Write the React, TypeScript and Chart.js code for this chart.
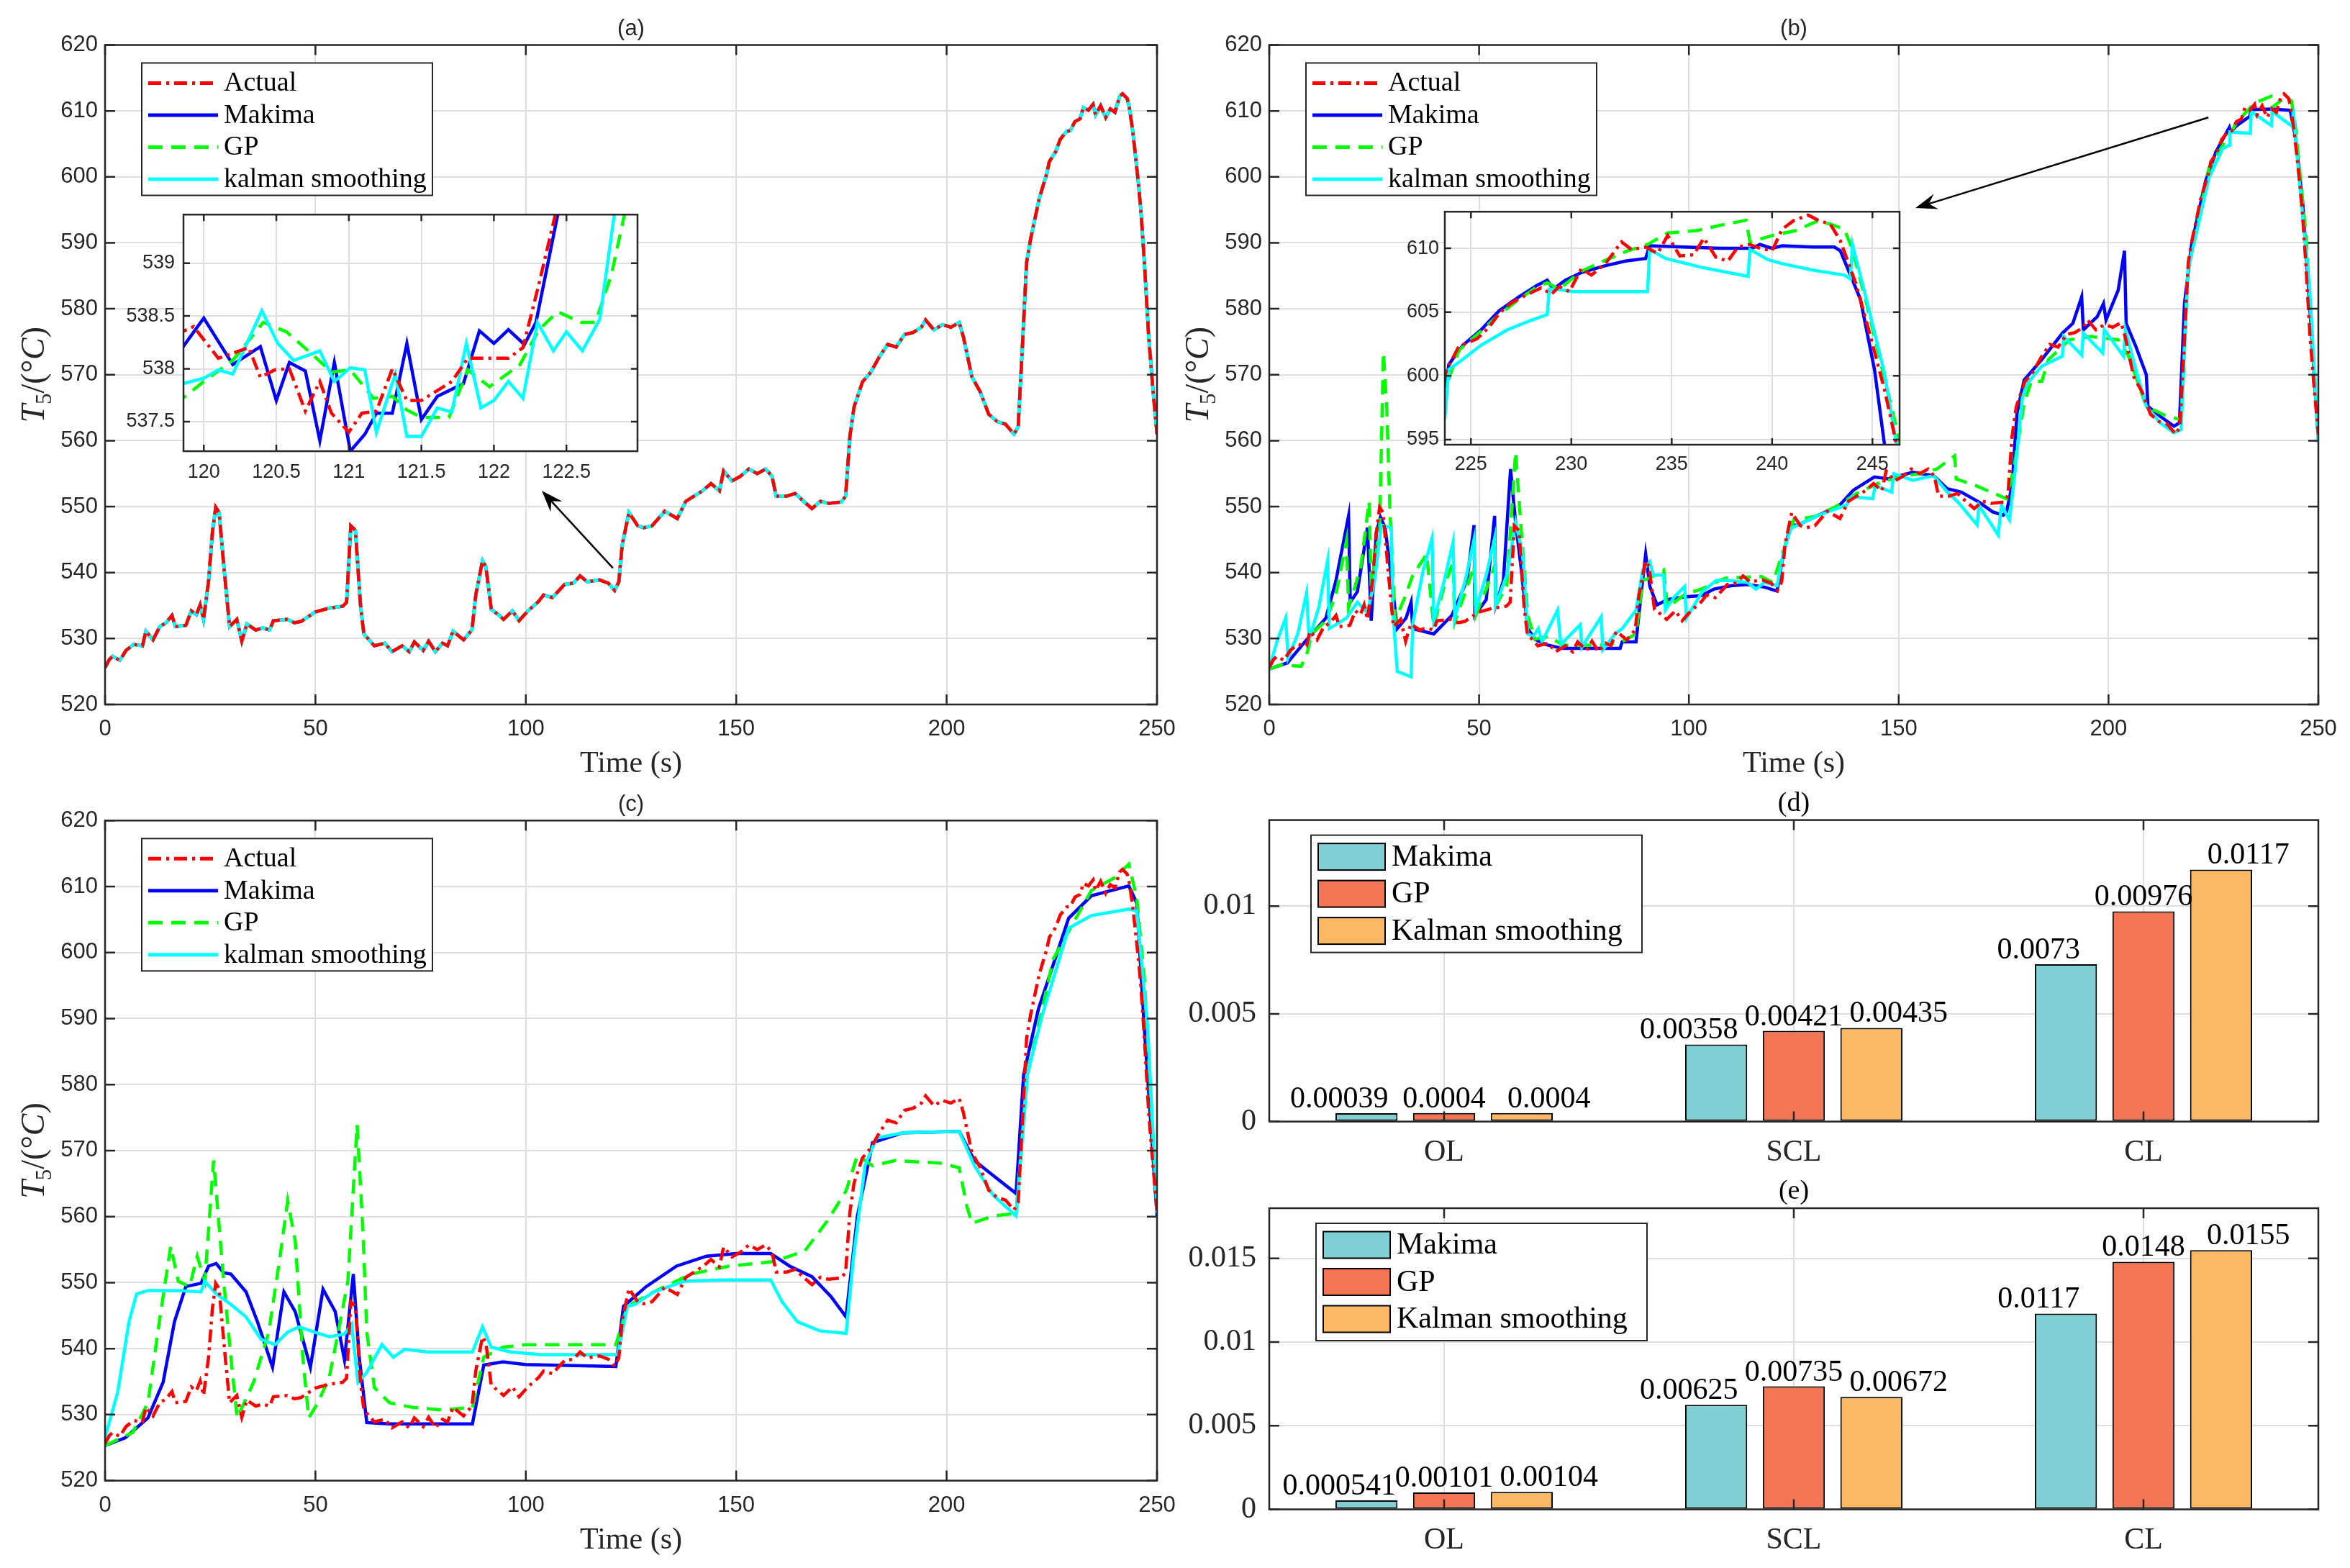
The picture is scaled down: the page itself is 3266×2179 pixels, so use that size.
import React, { useEffect, useRef } from 'react'
import { Chart, registerables } from 'chart.js'

Chart.register(...registerables)

const SANS = '"Liberation Sans", Arial, sans-serif'
const SERIF = '"Liberation Serif", "Times New Roman", serif'
const INK = '#262626'
const GRID = '#dfdfdf'
const RED = '#ff0000'
const BLUE = '#0000ff'
const GREEN = '#00ff00'
const CYAN = '#00ffff'
const DASHDOT = [18, 7, 4, 7]
const DASHED = [20, 12]

// ---------- measured temperature (s, °C), same in (a), (b), (c) ----------
const actualT = [
  0, 1, 1.8, 3.5, 5, 6.8, 8.9, 9.7, 11.4, 13, 14.5, 15.9, 16.7, 19.2, 20.5, 21.7, 22.6, 23.4, 24.6, 25.5,
  26.3, 27.1, 28.4, 29.6, 31.3, 32.5, 33.7, 35.8, 37.5, 39.1, 40, 43.3, 45, 46.6, 48, 49.9, 53.2, 56.5, 57.4, 58.4,
  59.5, 60.7, 61.5, 64, 66.5, 68.2, 70.6, 72.3, 73.5, 75.6, 76.9, 78.5, 80.2, 81.4, 82.7, 85.2, 87.2, 88.1, 89.7, 90.5,
  91.8, 93.5, 94.7, 96.8, 98.4, 100.5, 103, 104.2, 106.3, 109.2, 111.3, 112.9, 114.6, 117.5, 119.6, 121.1, 122.1, 122.9, 124.5, 126.6,
  128, 130, 133, 136, 138, 140, 142, 144, 146, 147, 149, 151, 153, 155, 157, 158.5, 159.5, 162, 164, 166,
  168, 170, 172, 175, 176, 177, 178, 180, 182, 184, 186, 188, 190, 192, 194, 195, 197, 199, 201, 203,
  204, 206, 208, 210, 212, 214, 216, 217, 218, 219, 220, 222, 223.8, 224.4, 225.9, 227, 228.5, 229.4, 230.5, 231.7,
  232.5, 233.7, 234.8, 235.4, 236.6, 237.8, 238.9, 240, 241.1, 241.8, 242.9, 243.4, 244.2, 244.9, 245.6, 246.2, 247, 248, 249, 250,
]
const actualV = [
  525.6, 526.8, 527.3, 526.7, 528.2, 529.1, 528.9, 531.1, 529.8, 531.8, 532.4, 533.5, 531.8, 532, 534.2, 533.6, 535.1, 532.9, 538.7, 546,
  549.9, 549.1, 539.8, 531.8, 532.9, 529.6, 532.2, 531.3, 531.6, 531.3, 532.7, 532.9, 532.4, 532.6, 533.2, 534, 534.6, 534.9, 535.5, 547.1,
  546.4, 535.1, 530.7, 528.9, 529.3, 528, 528.9, 528, 529.5, 528.2, 529.6, 528, 529.3, 528.9, 531.1, 529.8, 531.3, 536.6, 541.8, 540.9,
  534.4, 533.6, 532.9, 534.2, 532.7, 534.2, 535.6, 536.6, 536.2, 538.2, 538.4, 539.5, 538.6, 538.9, 538.4, 537.3, 538.6, 544.2, 549.1, 547.1,
  546.8, 547.1, 549.3, 548.2, 550.8, 551.6, 552.4, 553.5, 552.4, 555.4, 553.9, 554.6, 555.7, 555, 555.7, 554.6, 551.6, 551.6, 552, 550.8,
  549.7, 550.8, 550.5, 550.7, 551.6, 560.6, 565.1, 568.9, 570.4, 572.7, 574.6, 574.2, 576.1, 576.4, 577.2, 578.3, 576.8, 577.6, 577.2, 577.9,
  575.7, 569.7, 567.4, 564, 562.9, 562.5, 561, 562.1, 574.2, 587, 590.7, 596.7, 600.5, 602.3, 603.8, 605.7, 606.9, 607, 608.4, 608.8,
  610.5, 610.1, 611, 609.4, 610.8, 609, 610.3, 609.8, 612.2, 612.6, 611.9, 610.6, 607.1, 603.1, 598.9, 594.6, 587, 576, 568, 561,
]

// ---------- (b) reconstructions ----------
const makimaBT = [
  0, 4.3, 8.5, 13.5, 15.9, 18.9, 19.3, 21, 23.4, 24.3, 25.5, 26.5, 27.6, 29.2, 30.5, 32.6, 33.8, 34.2, 39.2, 43.5,
  47.1, 48.8, 49, 51.7, 53.7, 54, 55.8, 57.5, 58.7, 60, 61.6, 63.3, 65.8, 69.9, 78.2, 83.6, 84.1, 87.4, 88.6, 89.7,
  90.7, 92.4, 94.9, 99, 103, 106, 110, 114, 118, 121, 122.6, 124.3, 125.9, 130.9, 135.9, 139.2, 144.2, 147.5, 153.3, 158.3,
  161.6, 164.9, 169.1, 172.4, 174.9, 175.7, 177, 178.2, 179.9, 184.1, 189, 191.5, 193.6, 194, 197.3, 198.8, 199.4, 202.3, 203.8, 204.2,
  206.5, 209, 209.4, 212.3, 215.6, 216.9, 218.1, 219.8, 223.1, 225.6, 228.8, 229.1, 230.6, 233.7, 233.9, 238.8, 243.1, 243.4, 244.6, 246.3, 247.9, 250,
]
const makimaBV = [
  525.4, 526.3, 529.5, 533.1, 538.8, 548.6, 535.5, 537.1, 546.8, 532.7, 546, 548.4, 546.8, 538.8, 531.5, 533.1, 535.5, 531.5, 530.7, 533.5,
  538.8, 547.2, 533.5, 535.9, 548.6, 535.1, 538.8, 555.7, 547.6, 540.8, 531.5, 529.9, 529.1, 528.5, 528.5, 528.5, 529.5, 529.5, 536.7, 542.8,
  537.9, 535.1, 535.9, 536.3, 536.5, 537.5, 538, 538.2, 537.8, 537.2, 543.2, 547.2, 547.2, 548.7, 550.2, 552.5, 554.5, 554.2, 555.2, 554.7,
  552.7, 552.2, 550.7, 549.2, 548.7, 549.2, 553.2, 564.2, 569.2, 572.3, 576.3, 577.8, 581.8, 576.8, 578.8, 580.8, 578.3, 582.8, 588.8, 577.8,
  574.3, 570, 565.2, 563.7, 562.2, 562.7, 580.8, 589.8, 599.3, 603.8, 607.5, 606.8, 607.8, 609.2, 610.2, 610.3, 610.1, 609.8, 605.8, 595.8, 580.8, 560.2,
]
const gpBT = [
  0, 2.7, 7.6, 8.9, 10.1, 13.5, 15.9, 18.4, 18.9, 21.8, 23.8, 24.3, 26.3, 27.2, 28, 28.8, 30, 32.6, 34.2, 37.5,
  39.2, 41.7, 43.8, 44.2, 46.7, 48.8, 49.2, 51.7, 53.7, 54, 56.6, 58.7, 60, 61.6, 63.3, 66.6, 70, 75, 80, 84,
  87.4, 89, 90.7, 94, 94.9, 99, 103, 107.3, 109, 117.3, 120, 122.6, 125, 130, 135, 140, 145, 150, 155, 159.1,
  163.3, 163.7, 168.3, 175.7, 177.4, 179.9, 181.6, 184.1, 185.7, 190.7, 195.7, 202.3, 204.8, 209, 213.9, 217.3, 218.9, 223.9, 230.6, 234.8,
  238.7, 238.9, 242.2, 243.6, 244.6, 247.1, 250,
]
const gpBV = [
  525.4, 526, 525.8, 527.5, 530.7, 532.7, 536.7, 544.8, 534.7, 540.8, 550.8, 537.9, 546.8, 573.4, 565, 548.8, 532.7, 536.7, 539.6, 542.8,
  531.9, 538, 541.5, 532.5, 537, 541, 533.5, 537.5, 541, 535, 538, 558.3, 546.8, 533.5, 529.9, 530.3, 529, 529, 529, 529.5,
  530.7, 538.8, 539.2, 540.4, 534.7, 536.7, 537.5, 538.8, 539.2, 539.4, 538.5, 543.5, 548, 548.5, 550, 552, 553.5, 554.5, 555, 555.7,
  557.7, 554.2, 553.2, 551.2, 555.7, 565.7, 569, 569, 572.3, 575.3, 575.8, 575.3, 572.8, 565.2, 563.7, 563.2, 585.8, 601.3, 608.3, 611.2,
  612.2, 610.5, 612.1, 611.5, 607.3, 590.8, 560.7,
]
const kalmanBT = [
  0, 1.8, 3.9, 4.5, 6.8, 8.9, 9.5, 11.8, 13.9, 14.3, 18.4, 21, 23.4, 25.1, 26.7, 29.1, 29.4, 30.5, 33.8, 34.2,
  36.7, 38.8, 39.2, 41.7, 43.8, 44.2, 46.7, 48.8, 49.2, 51.7, 53.7, 54, 56.6, 58.7, 60.4, 61.6, 62.9, 64.1, 65, 68.7,
  69.5, 74.1, 74.5, 79.1, 79.5, 82.4, 84.1, 87.4, 89, 90.7, 91.5, 94, 94.4, 96.5, 99, 99.4, 103.2, 106.5, 109.8, 114,
  116, 118, 121, 122.6, 124.3, 127.6, 130.9, 137.5, 138.8, 143.8, 144.4, 148.3, 148.8, 153.3, 158.3, 161.6, 164.1, 168.7, 169.1, 173.7,
  174.5, 176.4, 177.8, 179.5, 180.7, 184.1, 189, 189.3, 193.6, 194, 198.6, 199, 203.6, 204, 206.5, 209, 212.3, 215.6, 217.3, 218.9,
  223.9, 227.2, 228.8, 228.9, 233.8, 234, 238.8, 239, 243.9, 244, 245.4, 247.9, 250,
]
const kalmanBV = [
  525.4, 529.5, 533.1, 527.1, 530.7, 536.9, 529.9, 534.7, 541.8, 531.5, 533.1, 535.5, 533.9, 538.8, 547.2, 546.8, 534.7, 525, 524.2, 532.3,
  540.4, 545.2, 532.7, 538.8, 544.6, 533.1, 538.8, 545, 534.3, 539.6, 545.2, 535.1, 539.6, 547.6, 542.8, 530.7, 530.3, 531.5, 529.5, 534.3,
  529.1, 532.1, 528.7, 533.3, 528.3, 530.7, 531.5, 534.3, 540.4, 541.6, 539.6, 539.6, 534.3, 536.3, 537.9, 533.1, 537.1, 538.8, 538.8, 538.5,
  537.5, 538.5, 538, 543.2, 546.7, 547.7, 548.7, 550.2, 551.5, 551.2, 553.2, 552.2, 555, 554, 554.7, 552.2, 550.7, 547.2, 550.2, 545.7,
  550.2, 548, 555.7, 566.7, 568.7, 571.3, 572.8, 575.8, 573, 576.3, 573.3, 576.8, 572.8, 576.8, 570.8, 565.2, 562.7, 561.2, 561.7, 585.8,
  599.8, 604.3, 604.8, 606.8, 606.6, 609.9, 607.8, 609.9, 607.6, 610.3, 599.8, 583.3, 559.7,
]

// ---------- (c) reconstructions ----------
const makimaCT = [
  0, 4.8, 10.2, 13.8, 16.5, 19.2, 22.8, 24.6, 26.4, 28.2, 29.9, 33.5, 36.2, 39.8, 42.5, 45.2, 48.8, 51.8, 54.7, 56.9,
  59, 60.4, 62.2, 67.6, 87.3, 90, 94.5, 99.9, 121.4, 123.2, 128.6, 135.8, 142.9, 150.1, 158.2, 162.7, 168, 172.5, 176.1, 178.8,
  182.4, 189.6, 203, 206.6, 211.1, 216.5, 218.3, 221.8, 229, 234.4, 243.3, 245.2, 247, 250,
]
const makimaCV = [
  525.3, 526.5, 529.5, 534.9, 544.1, 549.4, 549.9, 552.5, 552.9, 551.5, 551.3, 548.6, 544.1, 537.2, 548.6, 545.6, 537.2, 549, 545.6, 538.3,
  551.3, 538.7, 528.8, 528.6, 528.6, 537.5, 538, 537.6, 537.3, 546.4, 549.4, 552.5, 554, 554.4, 554.4, 552.5, 550.9, 547.9, 544.8, 560.1,
  571.2, 572.7, 572.9, 568.5, 566.2, 563.5, 581.5, 591.4, 605.2, 608.6, 610.1, 607.5, 588.4, 560.1,
]
const gpCT = [
  0, 6.6, 10.2, 12.9, 15.6, 17.4, 20.1, 21.9, 23.7, 25.8, 28.2, 29.9, 31.4, 35.3, 38.9, 41.6, 43.4, 45.2, 47, 48.4,
  50.6, 53.3, 55.9, 57.7, 59.9, 61.3, 62.2, 64, 67.6, 73, 80.2, 87.3, 90, 94.5, 99.9, 121.4, 124.1, 130.4, 139.3, 148.3,
  159, 166.3, 171.6, 176.1, 178.8, 182.4, 187.7, 198.5, 203, 204.8, 206, 211.1, 216.5, 219.2, 225.4, 234.4, 239.8, 243.3, 245.2, 247, 250,
]
const gpCV = [
  525.3, 527.3, 531.8, 544.1, 555.5, 550.2, 549.4, 554, 550.2, 568.5, 550.2, 538.7, 529.5, 534.9, 542.5, 554, 562.4, 556.3, 538.7, 529.5,
  531.8, 535.7, 544.1, 550.2, 573.9, 557.8, 542.5, 534.1, 531.8, 531.1, 530.7, 531.1, 538.7, 540.2, 540.6, 540.6, 546.4, 548.6, 551.3, 552.5,
  553.2, 554.8, 559.3, 563.9, 569.3, 567.7, 568.5, 568.1, 567.4, 561.6, 559, 560.1, 560.5, 581.5, 599.1, 609.4, 611.3, 613.4, 608.2, 596, 560.1,
]
const kalmanCT = [
  0, 3, 5.7, 7.5, 10.2, 17.4, 22.8, 23.7, 26.4, 29.9, 33.5, 37.1, 40.4, 43.4, 46.1, 49.7, 53.3, 56.9, 58.6, 60.1,
  62.2, 65.8, 68.5, 71.2, 76.6, 87.3, 89.7, 91.8, 96.3, 103.5, 121.8, 124.1, 125.9, 130.4, 137.6, 146.5, 158.2, 160.9, 164.5, 169.8,
  176.1, 177.9, 180.6, 183.3, 189.6, 203, 206.6, 211.1, 216.5, 219.2, 222.8, 229, 234.4, 243.3, 245.2, 247.8, 250,
]
const kalmanCV = [
  526.5, 533.4, 544.1, 548.3, 548.8, 548.8, 548.6, 550.2, 548.3, 546.7, 544.8, 541.4, 540.6, 542.5, 543.3, 542.5, 541.8, 542.2, 543.7, 534.9,
  536.4, 540.6, 538.7, 539.9, 539.5, 539.5, 543.3, 540.2, 539.5, 539.1, 539.1, 546.4, 546.7, 548.6, 550.2, 550.4, 550.4, 547.1, 544.1, 542.7,
  542.3, 554, 567.7, 571.9, 572.7, 572.9, 567.7, 563.2, 560.1, 581.5, 590.7, 603.7, 605.6, 606.6, 606.3, 588.4, 560.5,
]

// ---------- inset of (a): 119.9 s - 123 s ----------
const insA_actualT = [119.8, 119.93, 120.1, 120.31, 120.39, 120.49, 120.59, 120.7, 120.8, 120.88, 121, 121.09, 121.19, 121.3, 121.4, 121.5, 121.71, 121.82, 121.92, 122.1, 122.2, 122.31, 122.42, 122.6]
const insA_actualV = [538.32, 538.4, 538.1, 538.2, 537.92, 537.99, 538, 537.6, 537.88, 537.58, 537.4, 537.58, 537.6, 538, 537.7, 537.7, 537.88, 538.1, 538.1, 538.1, 538.2, 538.8, 539.44, 540.5]
const insA_makimaT = [119.8, 120, 120.2, 120.39, 120.5, 120.59, 120.7, 120.8, 120.9, 121.01, 121.11, 121.19, 121.3, 121.4, 121.5, 121.61, 121.79, 121.9, 122, 122.1, 122.21, 122.29, 122.44, 122.6]
const insA_makimaV = [538.1, 538.48, 538.04, 538.21, 537.7, 538.06, 537.98, 537.32, 538.06, 537.22, 537.38, 537.58, 537.58, 538.24, 537.52, 537.74, 537.86, 538.36, 538.24, 538.37, 538.23, 538.44, 539.46, 540.3]
const insA_gpT = [119.8, 120, 120.2, 120.41, 120.57, 120.72, 120.88, 121.01, 121.17, 121.3, 121.4, 121.5, 121.69, 121.82, 121.97, 122.18, 122.31, 122.44, 122.6, 122.7, 122.81, 122.9, 123.1]
const insA_gpV = [537.66, 537.88, 538.08, 538.44, 538.35, 538.17, 537.97, 537.99, 537.72, 537.74, 537.61, 537.54, 537.54, 537.99, 537.83, 538.04, 538.37, 538.54, 538.44, 538.44, 538.89, 539.46, 540]
const insA_kalmanT = [119.8, 120, 120.1, 120.2, 120.4, 120.51, 120.62, 120.8, 120.9, 121.01, 121.11, 121.19, 121.32, 121.4, 121.5, 121.61, 121.71, 121.81, 121.91, 122, 122.1, 122.2, 122.3, 122.41, 122.5, 122.61, 122.73, 122.83, 123]
const insA_kalmanV = [537.84, 537.91, 537.99, 537.95, 538.55, 538.24, 538.08, 538.17, 537.88, 538.01, 537.99, 537.4, 537.95, 537.36, 537.36, 537.63, 537.59, 538.24, 537.63, 537.7, 537.88, 537.72, 538.44, 538.17, 538.35, 538.17, 538.47, 539.46, 540.5]

// ---------- inset of (b): 223.7 s - 246.4 s ----------
const insB_actualT = [223.6, 223.8, 224.4, 225.3, 225.9, 226.4, 227, 227.7, 228.5, 229, 229.4, 229.9, 230.5, 231, 231.7, 232.5, 233, 233.7, 234.3, 234.8, 235.4, 236.1, 236.6, 237.2, 237.8, 238.3, 238.9, 239.4, 240, 240.5, 241.1, 241.8, 242.3, 242.9, 243.4, 244.2, 244.9, 245.6, 246.2, 246.6]
const insB_actualV = [599.5, 600.5, 602.3, 602.9, 603.8, 604.9, 605.7, 606.3, 606.9, 606.4, 607, 606.6, 608.4, 607.9, 608.8, 610.5, 609.9, 610.1, 609.6, 611, 609.4, 609.5, 610.8, 609.3, 609, 610.1, 610.3, 610, 609.8, 611.5, 612.2, 612.6, 612.2, 611.9, 610.6, 607.1, 603.1, 598.9, 594.6, 592]
const insB_makimaT = [223.6, 223.7, 223.9, 224.6, 225.5, 226.4, 227.4, 228.3, 228.8, 229.1, 229.7, 230.5, 231.6, 232.7, 233.7, 233.9, 235.6, 237.4, 239, 239.4, 240, 240.5, 242, 243.1, 243.4, 244.4, 245.1, 245.6, 246]
const insB_makimaV = [597.5, 598.6, 600.9, 602.4, 603.6, 605.1, 606.2, 607.1, 607.5, 606.8, 607.5, 608.1, 608.6, 609, 609.2, 610.2, 610.1, 610, 610, 610.3, 610, 610.2, 610.1, 610.1, 609.8, 606, 600.5, 594.6, 591]
const insB_gpT = [223.6, 223.7, 224.4, 225.5, 226.4, 227.4, 228.3, 228.8, 229.4, 230.5, 231.6, 232.8, 233.8, 234.8, 236.3, 237.4, 238.7, 238.9, 240, 241.2, 242.2, 242.9, 243.6, 244, 244.7, 245.4, 246.4, 246.6]
const insB_gpV = [598, 598.9, 602, 603.5, 604.8, 606, 607, 607.3, 606.8, 608.2, 609, 609.8, 610.3, 611.2, 611.4, 611.8, 612.2, 610.5, 611, 611.4, 612.1, 611.9, 611.5, 609.9, 605.7, 601.1, 594.6, 593]
const insB_kalmanT = [223.6, 223.7, 223.9, 224.6, 225.5, 226.8, 227.9, 228.8, 228.9, 229.2, 230.1, 231.9, 233.8, 233.9, 234.7, 236.5, 238.8, 238.9, 239.8, 240.5, 242, 243.6, 243.9, 244, 244.7, 245.6, 246.2, 246.6]
const insB_kalmanV = [596.5, 596.7, 600.5, 601.3, 602.4, 603.6, 604.3, 604.8, 606.8, 606.8, 606.6, 606.6, 606.6, 609.9, 609.2, 608.5, 607.8, 609.9, 609.1, 608.8, 608.3, 607.9, 607.6, 610.3, 606, 600.2, 594.6, 592]

// ---------- tick values ----------
const timeTicks = [0, 50, 100, 150, 200, 250]
const tempTicks = [520, 530, 540, 550, 560, 570, 580, 590, 600, 610, 620]
const insATimeTicks = [120, 120.5, 121, 121.5, 122, 122.5]
const insATempTicks = [537.5, 538, 538.5, 539]
const insBTimeTicks = [225, 230, 235, 240, 245]
const insBTempTicks = [595, 600, 605, 610]
const dTicks = [0, 0.005, 0.01]
const eTicks = [0, 0.005, 0.01, 0.015]

// ---------- error bars (d), (e) ----------
const categories = ['OL', 'SCL', 'CL']
const barMethods = ['Makima', 'GP', 'Kalman smoothing']
const barColors = ['#7fcfd4', '#f37553', '#fdb863']
const dMakima = [0.00039, 0.00358, 0.0073]
const dGP = [0.0004, 0.00421, 0.00976]
const dKalman = [0.0004, 0.00435, 0.0117]
const eMakima = [0.000541, 0.00625, 0.0117]
const eGP = [0.00101, 0.00735, 0.0148]
const eKalman = [0.00104, 0.00672, 0.0155]

const lineLegend = [
  { label: 'Actual', color: RED, dash: DASHDOT },
  { label: 'Makima', color: BLUE, dash: [] as number[] },
  { label: 'GP', color: GREEN, dash: DASHED },
  { label: 'kalman smoothing', color: CYAN, dash: [] as number[] },
]

type Box = { left: number; top: number; width: number; height: number; pl: number; pt: number; pr: number; pb: number }

const pts = (t: number[], v: number[]) => t.map((x, i) => ({ x, y: v[i] }))
const fixTicks = (vals: number[]) => (s: any) => { s.ticks = vals.map((value) => ({ value })) }
const plainNum = (v: any) => String(+Number(v).toFixed(4))

function frame(b: Box) {
  return {
    padding: { top: b.pt - b.top, right: b.left + b.width - b.pr, bottom: 0, left: 0 },
    yWidth: b.pl - b.left,
    xHeight: b.top + b.height - b.pb,
  }
}

function drawTLabel(ctx: CanvasRenderingContext2D, cx: number, cy: number, size: number) {
  const parts: [string, string, number][] = [
    ['T', `italic ${size}px ${SERIF}`, 0],
    ['5', `${Math.round(size * 0.68)}px ${SERIF}`, size * 0.22],
    ['/(°', `${size}px ${SERIF}`, 0],
    ['C', `italic ${size}px ${SERIF}`, 0],
    [')', `${size}px ${SERIF}`, 0],
  ]
  ctx.save()
  ctx.translate(cx, cy)
  ctx.rotate(-Math.PI / 2)
  ctx.textAlign = 'left'
  ctx.textBaseline = 'alphabetic'
  ctx.fillStyle = INK
  let w = 0
  parts.forEach((p) => { ctx.font = p[1]; w += ctx.measureText(p[0]).width })
  let x = -w / 2
  parts.forEach((p) => {
    ctx.font = p[1]
    ctx.fillText(p[0], x, size * 0.33 + p[2])
    x += ctx.measureText(p[0]).width
  })
  ctx.restore()
}

function drawArrow(ctx: CanvasRenderingContext2D, x1: number, y1: number, x2: number, y2: number) {
  const ang = Math.atan2(y2 - y1, x2 - x1)
  const L = 30
  const W = 11
  ctx.save()
  ctx.setLineDash([])
  ctx.strokeStyle = '#000'
  ctx.lineWidth = 2.5
  ctx.beginPath()
  ctx.moveTo(x1, y1)
  ctx.lineTo(x2 - L * 0.6 * Math.cos(ang), y2 - L * 0.6 * Math.sin(ang))
  ctx.stroke()
  ctx.translate(x2, y2)
  ctx.rotate(ang)
  ctx.beginPath()
  ctx.moveTo(0, 0)
  ctx.lineTo(-L, -W)
  ctx.lineTo(-L * 0.65, 0)
  ctx.lineTo(-L, W)
  ctx.closePath()
  ctx.fillStyle = '#000'
  ctx.fill()
  ctx.restore()
}

// box + inward tick marks, drawn over the data like MATLAB axes
function axesPlugin(tick: number, fillWhite: boolean) {
  return {
    id: 'matlabAxes',
    beforeDraw(chart: any) {
      if (!fillWhite) return
      const { ctx, chartArea: a } = chart
      ctx.save()
      ctx.fillStyle = '#fff'
      ctx.fillRect(a.left, a.top, a.right - a.left, a.bottom - a.top)
      ctx.restore()
    },
    afterDatasetsDraw(chart: any) {
      const { ctx, chartArea: a, scales } = chart
      ctx.save()
      ctx.setLineDash([])
      ctx.strokeStyle = INK
      ctx.lineWidth = 2.5
      ctx.beginPath()
      scales.x.ticks.forEach((_t: any, i: number) => {
        const p = scales.x.getPixelForTick(i)
        ctx.moveTo(p, a.bottom); ctx.lineTo(p, a.bottom - tick)
        ctx.moveTo(p, a.top); ctx.lineTo(p, a.top + tick)
      })
      scales.y.ticks.forEach((_t: any, i: number) => {
        const p = scales.y.getPixelForTick(i)
        ctx.moveTo(a.left, p); ctx.lineTo(a.left + tick, p)
        ctx.moveTo(a.right, p); ctx.lineTo(a.right - tick, p)
      })
      ctx.stroke()
      ctx.strokeRect(a.left, a.top, a.right - a.left, a.bottom - a.top)
      ctx.restore()
    },
  }
}

function lineDecor(title: string, arrow?: number[]) {
  return {
    id: 'lineDecor',
    afterDraw(chart: any) {
      const { ctx, chartArea: a, scales } = chart
      const cx = (a.left + a.right) / 2
      ctx.save()
      ctx.fillStyle = INK
      ctx.textAlign = 'center'
      ctx.textBaseline = 'middle'
      ctx.font = `31px ${SANS}`
      ctx.fillText(title, cx, a.top - 22)
      ctx.font = `42px ${SERIF}`
      ctx.fillText('Time (s)', cx, a.bottom + 83)
      drawTLabel(ctx, a.left - 100, (a.top + a.bottom) / 2, 46)
      if (arrow) {
        drawArrow(ctx, scales.x.getPixelForValue(arrow[0]), scales.y.getPixelForValue(arrow[1]),
          scales.x.getPixelForValue(arrow[2]), scales.y.getPixelForValue(arrow[3]))
      }
      // legend
      const lx = a.left + 51
      const ly = a.top + 25
      ctx.fillStyle = '#fff'
      ctx.fillRect(lx, ly, 404, 184)
      ctx.strokeStyle = INK
      ctx.lineWidth = 2
      ctx.setLineDash([])
      ctx.strokeRect(lx, ly, 404, 184)
      lineLegend.forEach((it, i) => {
        const ry = ly + 28 + 44.5 * i
        ctx.strokeStyle = it.color
        ctx.lineWidth = 5
        ctx.setLineDash(it.dash)
        ctx.beginPath()
        ctx.moveTo(lx + 9, ry)
        ctx.lineTo(lx + 106, ry)
        ctx.stroke()
        ctx.setLineDash([])
        ctx.fillStyle = '#000'
        ctx.textAlign = 'left'
        ctx.font = `38px ${SERIF}`
        ctx.fillText(it.label, lx + 114, ry + 1)
      })
      ctx.restore()
    },
  }
}

type Sc = { xmin: number; xmax: number; xticks: number[]; ymin: number; ymax: number; yticks: number[]; font: number; xpad: number; ypad: number; lw: number }

function lineConfig(box: Box, sets: any[], sc: Sc, plugins: any[]) {
  const f = frame(box)
  const tickFont = { family: SANS, size: sc.font }
  return {
    type: 'line',
    data: {
      datasets: sets.map((s) => ({
        label: s.label,
        data: pts(s.t, s.v),
        borderColor: s.color,
        borderDash: s.dash,
        borderWidth: sc.lw,
        pointRadius: 0,
        tension: 0,
        fill: false,
        order: s.order,
      })),
    },
    options: {
      animation: false,
      responsive: false,
      devicePixelRatio: 1,
      events: [],
      layout: { padding: f.padding },
      plugins: { legend: { display: false }, tooltip: { enabled: false } },
      scales: {
        x: {
          type: 'linear', bounds: 'data', min: sc.xmin, max: sc.xmax,
          afterBuildTicks: fixTicks(sc.xticks),
          afterFit: (s: any) => { s.height = f.xHeight },
          grid: { color: GRID, lineWidth: 2, drawTicks: false },
          border: { display: false },
          ticks: { font: tickFont, color: INK, padding: sc.xpad, maxRotation: 0, autoSkip: false, callback: plainNum },
        },
        y: {
          type: 'linear', bounds: 'data', min: sc.ymin, max: sc.ymax,
          afterBuildTicks: fixTicks(sc.yticks),
          afterFit: (s: any) => { s.width = f.yWidth },
          grid: { color: GRID, lineWidth: 2, drawTicks: false },
          border: { display: false },
          ticks: { font: tickFont, color: INK, padding: sc.ypad, autoSkip: false, callback: plainNum },
        },
      },
    },
    plugins,
  }
}

function seriesSet(mk: number[][], gp: number[][], kf: number[][], actual: number[][]) {
  return [
    { label: 'Actual', t: actual[0], v: actual[1], color: RED, dash: DASHDOT, order: 0 },
    { label: 'kalman smoothing', t: kf[0], v: kf[1], color: CYAN, dash: [], order: 1 },
    { label: 'GP', t: gp[0], v: gp[1], color: GREEN, dash: DASHED, order: 2 },
    { label: 'Makima', t: mk[0], v: mk[1], color: BLUE, dash: [], order: 3 },
  ]
}

const mainSc: Sc = { xmin: 0, xmax: 250, xticks: timeTicks, ymin: 520, ymax: 620, yticks: tempTicks, font: 31, xpad: 16, ypad: 10, lw: 4.5 }

function barConfig(box: Box, vals: number[][], ymax: number, yticks: number[], title: string, legendDx: number) {
  const f = frame(box)
  const font = { family: SERIF, size: 42 }
  const decor = {
    id: 'barDecor',
    afterDraw(chart: any) {
      const { ctx, chartArea: a, scales } = chart
      const xs = scales.x
      const ys = scales.y
      const catW = xs.getPixelForValue(1) - xs.getPixelForValue(0)
      ctx.save()
      ctx.fillStyle = '#000'
      ctx.textAlign = 'center'
      ctx.textBaseline = 'middle'
      ctx.font = `38px ${SERIF}`
      ctx.fillText(title, (a.left + a.right) / 2, a.top - 23)
      // value labels
      ctx.font = `42px ${SERIF}`
      ctx.textBaseline = 'alphabetic'
      vals.forEach((row, i) => {
        row.forEach((v, j) => {
          const x = xs.getPixelForValue(j) + (i - 1) * 0.3 * catW
          ctx.fillText(String(v), x, ys.getPixelForValue(v) - 8)
        })
      })
      // legend
      const lx = a.left + legendDx
      const ly = a.top + 21
      ctx.fillStyle = '#fff'
      ctx.fillRect(lx, ly, 460, 163)
      ctx.strokeStyle = INK
      ctx.lineWidth = 2
      ctx.strokeRect(lx, ly, 460, 163)
      barMethods.forEach((m, i) => {
        const ry = ly + 30 + 51.5 * i
        ctx.fillStyle = barColors[i]
        ctx.fillRect(lx + 10, ry - 18.5, 93, 37)
        ctx.strokeStyle = '#000'
        ctx.strokeRect(lx + 10, ry - 18.5, 93, 37)
        ctx.fillStyle = '#000'
        ctx.textAlign = 'left'
        ctx.textBaseline = 'middle'
        ctx.fillText(m, lx + 112, ry + 1)
      })
      ctx.restore()
    },
  }
  return {
    type: 'bar',
    data: {
      labels: categories,
      datasets: vals.map((row, i) => ({
        label: barMethods[i],
        data: row,
        backgroundColor: barColors[i],
        borderColor: '#000',
        borderWidth: 2,
        borderSkipped: false,
        categoryPercentage: 0.666,
        barPercentage: 0.8,
      })),
    },
    options: {
      animation: false,
      responsive: false,
      devicePixelRatio: 1,
      events: [],
      layout: { padding: f.padding },
      plugins: { legend: { display: false }, tooltip: { enabled: false } },
      scales: {
        x: {
          type: 'category', offset: true,
          afterFit: (s: any) => { s.height = f.xHeight },
          grid: { offset: false, color: GRID, lineWidth: 2, drawTicks: false },
          border: { display: false },
          ticks: { font, color: INK, padding: 18 },
        },
        y: {
          type: 'linear', bounds: 'data', min: 0, max: ymax,
          afterBuildTicks: fixTicks(yticks),
          afterFit: (s: any) => { s.width = f.yWidth },
          grid: { color: GRID, lineWidth: 2, drawTicks: false },
          border: { display: false },
          ticks: { font, color: INK, padding: 18, callback: plainNum },
        },
      },
    },
    plugins: [axesPlugin(14, false), decor],
  }
}

function ChartCanvas({ box, make }: { box: Box; make: () => any }) {
  const ref = useRef<HTMLCanvasElement>(null)
  useEffect(() => {
    const c = ref.current
    if (!c) return
    const chart = new Chart(c, make())
    return () => chart.destroy()
    // eslint-disable-next-line react-hooks/exhaustive-deps
  }, [])
  return (
    <canvas
      ref={ref}
      width={box.width}
      height={box.height}
      style={{ position: 'absolute', left: box.left, top: box.top, width: box.width, height: box.height }}
    />
  )
}

const boxA: Box = { left: 0, top: 0, width: 1650, height: 1090, pl: 146, pt: 62.5, pr: 1608, pb: 979 }
const boxB: Box = { left: 1620, top: 0, width: 1646, height: 1090, pl: 1764, pt: 62.5, pr: 3222, pb: 979 }
const boxC: Box = { left: 0, top: 1085, width: 1650, height: 1094, pl: 146, pt: 1140.3, pr: 1608, pb: 2057.6 }
const boxD: Box = { left: 1620, top: 1085, width: 1646, height: 555, pl: 1764, pt: 1139.6, pr: 3222, pb: 1558.6 }
const boxE: Box = { left: 1620, top: 1630, width: 1646, height: 549, pl: 1764, pt: 1679, pr: 3222, pb: 2097.5 }
const boxInsA: Box = { left: 150, top: 270, width: 760, height: 420, pl: 255, pt: 286, pr: 886, pb: 627 }
const boxInsB: Box = { left: 1940, top: 270, width: 720, height: 410, pl: 2008, pt: 286, pr: 2640, pb: 618 }

const ACT = [actualT, actualV]

export default function App() {
  return (
    <div style={{ position: 'absolute', left: 0, top: 0, width: 3266, height: 2179, background: '#fff', overflow: 'hidden' }}>
      <ChartCanvas
        box={boxA}
        make={() => lineConfig(boxA, seriesSet(ACT, ACT, ACT, ACT), mainSc, [axesPlugin(14, false), lineDecor('(a)', [120.7, 540.7, 103.8, 552.4])])}
      />
      <ChartCanvas
        box={boxB}
        make={() => lineConfig(boxB, seriesSet([makimaBT, makimaBV], [gpBT, gpBV], [kalmanBT, kalmanBV], ACT), mainSc, [axesPlugin(14, false), lineDecor('(b)', [223.8, 609, 154, 595.3])])}
      />
      <ChartCanvas
        box={boxC}
        make={() => lineConfig(boxC, seriesSet([makimaCT, makimaCV], [gpCT, gpCV], [kalmanCT, kalmanCV], ACT), mainSc, [axesPlugin(14, false), lineDecor('(c)')])}
      />
      <ChartCanvas box={boxD} make={() => barConfig(boxD, [dMakima, dGP, dKalman], 0.014, dTicks, '(d)', 58)} />
      <ChartCanvas box={boxE} make={() => barConfig(boxE, [eMakima, eGP, eKalman], 0.018, eTicks, '(e)', 65)} />
      <ChartCanvas
        box={boxInsA}
        make={() => lineConfig(boxInsA,
          seriesSet([insA_makimaT, insA_makimaV], [insA_gpT, insA_gpV], [insA_kalmanT, insA_kalmanV], [insA_actualT, insA_actualV]),
          { xmin: 119.86, xmax: 122.99, xticks: insATimeTicks, ymin: 537.22, ymax: 539.46, yticks: insATempTicks, font: 27, xpad: 13, ypad: 12, lw: 4.5 },
          [axesPlugin(9, true)])}
      />
      <ChartCanvas
        box={boxInsB}
        make={() => lineConfig(boxInsB,
          seriesSet([insB_makimaT, insB_makimaV], [insB_gpT, insB_gpV], [insB_kalmanT, insB_kalmanV], [insB_actualT, insB_actualV]),
          { xmin: 223.7, xmax: 246.35, xticks: insBTimeTicks, ymin: 594.6, ymax: 612.87, yticks: insBTempTicks, font: 27, xpad: 11, ypad: 8, lw: 4.5 },
          [axesPlugin(9, true)])}
      />
    </div>
  )
}
